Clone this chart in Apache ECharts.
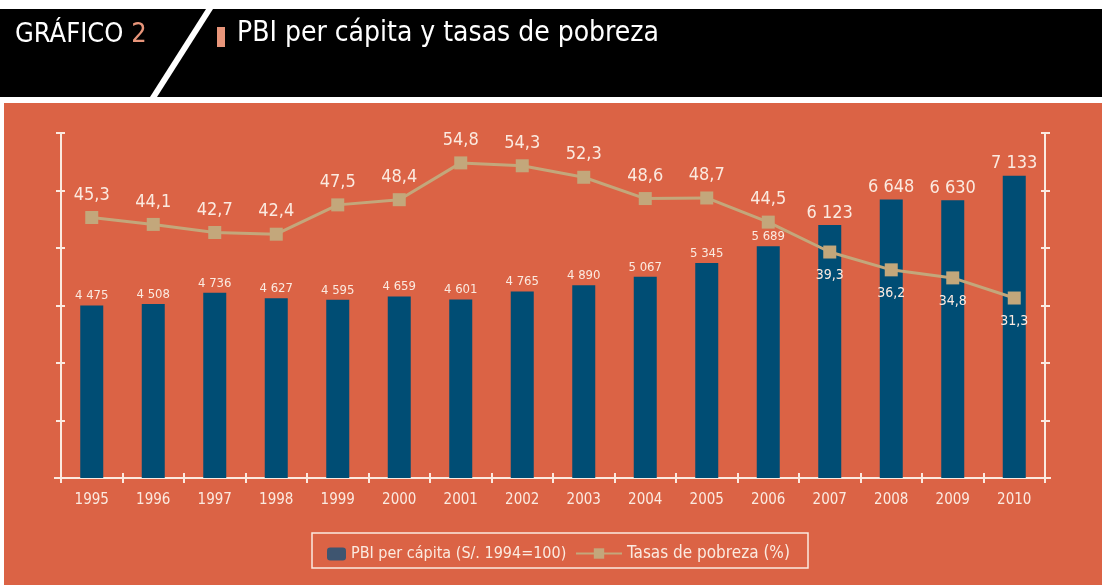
<!DOCTYPE html>
<html>
<head>
<meta charset="utf-8">
<script src="https://cdn.jsdelivr.net/npm/echarts@6/dist/echarts.min.js"></script>
<style>
  html, body { margin: 0; padding: 0; background: #fff; }
  #main { width: 1102px; height: 585px; }
</style>
</head>
<body>
<div id="main"></div>
<script>
// datos
var years = ['1995', '1996', '1997', '1998', '1999', '2000', '2001', '2002',
             '2003', '2004', '2005', '2006', '2007', '2008', '2009', '2010'];
var pbi = [4475, 4508, 4736, 4627, 4595, 4659, 4601, 4765,
           4890, 5067, 5345, 5689, 6123, 6648, 6630, 7133];
var pobreza = [45.3, 44.1, 42.7, 42.4, 47.5, 48.4, 54.8, 54.3,
               52.3, 48.6, 48.7, 44.5, 39.3, 36.2, 34.8, 31.3];

var FONT = "'DejaVu Sans Condensed','Liberation Sans Narrow',sans-serif";
var CREAM = '#fbeae0';
var ORANGE = '#db6345';
var BLUE = '#004d74';
var TAN = '#c3a77b';

function miles(v) {
    return String(v).replace(/\B(?=(\d{3})+(?!\d))/g, ' ');
}
function coma(v) {
    return v.toFixed(1).replace('.', ',');
}

var barData = pbi.map(function (v, i) {
    return {
        value: v,
        label: { fontSize: i >= 12 ? 18 : 13 }
    };
});
var lineData = pobreza.map(function (v, i) {
    if (i >= 12) {
        return { value: v, label: { position: 'bottom', distance: 10, fontSize: 14 } };
    }
    return { value: v, label: { position: 'top', distance: 7, fontSize: 18 } };
});

var myChart = echarts.init(document.getElementById('main'));

var tickAxis = {
    type: 'value', min: 0, max: 60, interval: 10,
    axisLabel: { show: false },
    splitLine: { show: false }
};

var option = {
    backgroundColor: '#ffffff',
    animation: false,
    textStyle: { fontFamily: FONT },
    graphic: [
        { type: 'rect', z: -10, shape: { x: 0, y: 9, width: 1102, height: 88 }, style: { fill: '#000' } },
        { type: 'polygon', z: -9, shape: { points: [[206, 9], [213, 9], [157, 97], [150, 97]] }, style: { fill: '#fff' } },
        { type: 'rect', z: -10, shape: { x: 4, y: 103, width: 1098, height: 482 }, style: { fill: ORANGE } },
        {
            type: 'text', z: -8, left: 15, top: 21,
            style: {
                text: '{a|GRÁFICO }{b|2}',
                rich: {
                    a: { fill: '#fff', fontSize: 27, fontFamily: FONT },
                    b: { fill: '#e8957a', fontSize: 27, fontFamily: FONT }
                }
            }
        },
        { type: 'rect', z: -8, shape: { x: 217, y: 27, width: 8, height: 20 }, style: { fill: '#e8957a' } },
        {
            type: 'text', z: -8, left: 237, top: 20,
            style: { text: 'PBI per cápita y tasas de pobreza', fill: '#fff', fontSize: 28, fontFamily: FONT }
        },
        {
            type: 'rect', z: -5, shape: { x: 312, y: 533, width: 496, height: 35 },
            style: { fill: 'none', stroke: CREAM, lineWidth: 1.5 }
        },
        // prolongación del eje x
        { type: 'line', z: -4, shape: { x1: 54, y1: 478, x2: 1051, y2: 478 }, style: { stroke: CREAM, lineWidth: 2 } }
    ],
    legend: [
        {
            data: [{ name: 'PBI per cápita (S/. 1994=100)', itemStyle: { color: '#3e5570' } }],
            left: 322, top: 541, itemWidth: 19, itemHeight: 13, itemGap: 5,
            textStyle: { color: CREAM, fontSize: 16, fontFamily: FONT }
        },
        {
            data: ['Tasas de pobreza (%)'],
            left: 570, top: 540, itemWidth: 46, itemHeight: 13,
            textStyle: { color: CREAM, fontSize: 17, fontFamily: FONT }
        }
    ],
    grid: { left: 61, right: 57, top: 133, bottom: 107 },
    xAxis: [
        {
            type: 'category', data: years, boundaryGap: true,
            axisLine: { onZero: false, lineStyle: { color: CREAM, width: 2 } },
            axisTick: { show: true, length: 5, lineStyle: { color: CREAM, width: 2 } },
            axisLabel: { color: CREAM, fontSize: 15, margin: 15, fontFamily: FONT }
        },
        {
            type: 'category', data: years, position: 'bottom', boundaryGap: true,
            axisLine: { show: false, onZero: false },
            axisTick: { show: true, inside: true, length: 5, lineStyle: { color: CREAM, width: 2 } },
            axisLabel: { show: false }
        }
    ],
    yAxis: [
        Object.assign({}, tickAxis, {
            position: 'left',
            axisLine: { show: true, lineStyle: { color: CREAM, width: 2 } },
            axisTick: { show: true, length: 5, lineStyle: { color: CREAM, width: 2 } }
        }),
        {
            type: 'value', min: 942, max: 8010, show: false,
            splitLine: { show: false }
        },
        Object.assign({}, tickAxis, {
            position: 'right',
            axisLine: { show: true, lineStyle: { color: CREAM, width: 2 } },
            axisTick: { show: true, length: 5, lineStyle: { color: CREAM, width: 2 } }
        }),
        Object.assign({}, tickAxis, {
            position: 'left',
            axisLine: { show: false },
            axisTick: { show: true, inside: true, length: 4, lineStyle: { color: CREAM, width: 2 } }
        }),
        Object.assign({}, tickAxis, {
            position: 'right',
            axisLine: { show: false },
            axisTick: { show: true, inside: true, length: 4, lineStyle: { color: CREAM, width: 2 } }
        })
    ],
    series: [
        {
            name: 'PBI per cápita (S/. 1994=100)',
            type: 'bar',
            yAxisIndex: 1,
            barWidth: 23,
            itemStyle: { color: BLUE },
            label: {
                show: true, position: 'top', distance: 3, color: CREAM, fontFamily: FONT,
                formatter: function (p) { return miles(p.value); }
            },
            data: barData
        },
        {
            name: 'Tasas de pobreza (%)',
            type: 'line',
            yAxisIndex: 0,
            symbol: 'rect',
            symbolSize: 13,
            lineStyle: { color: TAN, width: 3 },
            itemStyle: { color: TAN },
            label: {
                show: true, color: CREAM, fontFamily: FONT,
                formatter: function (p) { return coma(p.value); }
            },
            data: lineData
        }
    ]
};

myChart.setOption(option);
</script>
</body>
</html>
